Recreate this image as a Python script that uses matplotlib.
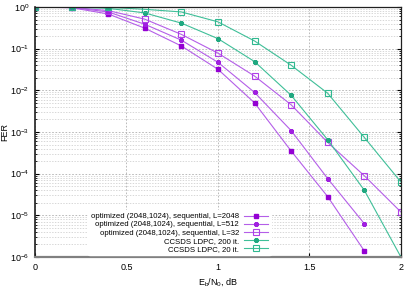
import matplotlib
matplotlib.use('Agg')
import matplotlib.pyplot as plt
import numpy as np

plt.rcParams.update({'font.size': 6, 'font.family': ['Liberation Sans', 'DejaVu Sans'],
                     'mathtext.fontset': 'custom', 'mathtext.rm': 'Liberation Sans',
                     'mathtext.it': 'Liberation Sans', 'mathtext.default': 'regular'})

# Eb/N0 points, dB
ebn0 = [0.0, 0.2, 0.4, 0.6, 0.8, 1.0, 1.2, 1.4, 1.6, 1.8, 2.0]

fer_L2048 = [1.0, 0.96, 0.68, 0.31, 0.116, 0.032, 0.005, 3.5e-4, 2.8e-5, 1.4e-6]
fer_L512 = [1.0, 0.97, 0.76, 0.385, 0.16, 0.047, 0.0089, 1.08e-3, 7.6e-5, 6.3e-6]
fer_L32 = [1.0, 0.98, 0.82, 0.51, 0.22, 0.078, 0.022, 4.5e-3, 5.6e-4, 8.9e-5, 1.2e-5]
fer_ccsds200 = [1.0, 0.99, 0.93, 0.72, 0.41, 0.174, 0.049, 7.6e-3, 6.5e-4, 4.0e-5, 1.0e-6]
fer_ccsds20 = [1.0, 1.0, 0.98, 0.88, 0.76, 0.44, 0.153, 0.04, 8.5e-3, 7.4e-4, 6.3e-5]

labels = ['optimized (2048,1024), sequential, L=2048',
          'optimized (2048,1024), sequential, L=512',
          'optimized (2048,1024), sequential, L=32',
          'CCSDS LDPC, 200 it.',
          'CCSDS LDPC, 20 it.']

fig = plt.figure(figsize=(4.15, 2.91), dpi=100)
ax = fig.add_axes([0.0843, 0.117, 0.8817, 0.859])

purple = '#b45ee8'
teal = '#3fbf98'

ax.plot(ebn0[:len(fer_L2048)], fer_L2048, color=purple, lw=0.8,
        marker='s', ms=3.5, mfc='#9400d3', mec='#9400d3', label=labels[0])
ax.plot(ebn0[:len(fer_L512)], fer_L512, color=purple, lw=0.8,
        marker=(8, 2, 0), ms=3.5, mew=1.0, mec='#a020e0', label=labels[1])
ax.plot(ebn0, fer_L32, color=purple, lw=0.8,
        marker='s', ms=4.2, mfc='none', mec='#b040e8', mew=0.8, label=labels[2])
ax.plot(ebn0, fer_ccsds200, color=teal, lw=0.8,
        marker=(8, 2, 0), ms=3.5, mew=1.0, mec='#20a880', label=labels[3])
ax.plot(ebn0, fer_ccsds20, color=teal, lw=0.8,
        marker='s', ms=4.2, mfc='none', mec='#30b890', mew=0.8, label=labels[4])

ax.set_yscale('log')
ax.set_xlim(0, 2)
ax.set_ylim(1e-6, 1)
ax.set_xticks([0, 0.5, 1, 1.5, 2])
ax.set_xticklabels(['0', '0.5', '1', '1.5', '2'])

ax.grid(True, which='major', color='#b0b0b0', ls=(0, (2, 2)), lw=0.6)
ax.grid(True, which='minor', axis='y', color='#c8c8c8', ls=(0, (2, 2)), lw=0.5)
ax.tick_params(which='both', direction='in', top=False, right=True, labelsize=6.5, pad=4)
ax.tick_params(which='major', length=3)
ax.tick_params(which='minor', length=1.5)

for s in ax.spines.values():
    s.set_linewidth(0.9)
    s.set_color('#202020')
ax.spines['bottom'].set_color('#808080')
ax.spines['bottom'].set_linewidth(1.6)
ax.spines['left'].set_linewidth(1.2)

ax.set_xlabel('E$_b$/N$_0$, dB', fontsize=6.5)
ax.set_ylabel('FER', fontsize=6.5)
ax.xaxis.set_label_coords(0.5, -0.075)
ax.yaxis.set_label_coords(-0.07, 0.5)

leg = ax.legend(loc='lower right', bbox_to_anchor=(0.648, 0.0), fontsize=5.6,
                frameon=True, framealpha=1, edgecolor='white', facecolor='white',
                markerfirst=False, handlelength=3.0, handletextpad=0.7,
                labelspacing=0.08, borderpad=0.35, borderaxespad=0.2)
for t in leg.get_texts():
    t.set_ha('right')
leg._legend_box.align = 'right'

fig.savefig('out.png', dpi=100)
